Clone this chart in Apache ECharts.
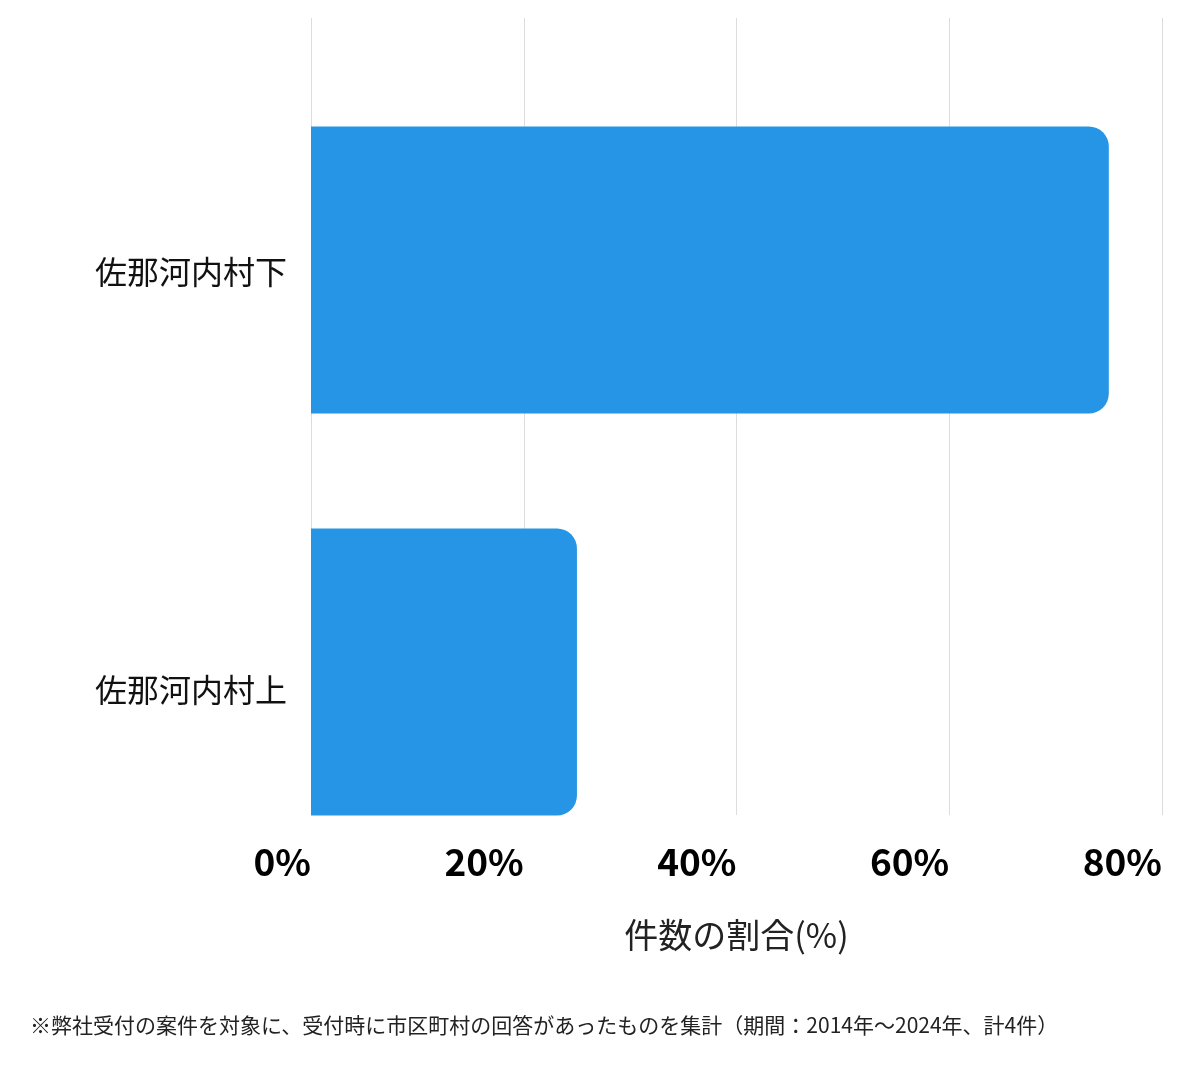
<!DOCTYPE html>
<html>
<head>
<meta charset="utf-8">
<script src="https://cdn.jsdelivr.net/npm/echarts@6/dist/echarts.min.js"></script>
<style>
  html, body { margin: 0; padding: 0; background: #fff; }
  #chart { width: 1200px; height: 1069px; }
</style>
</head>
<body>
<div id="chart"></div>
<script>
// categories, bottom to top (ECharts category y-axis starts at the bottom)
const areas = ['佐那河内村上', '佐那河内村下'];
const shares = [25, 75];
const xTicks = [0, 20, 40, 60, 80];
const axisTitle = '件数の割合(%)';
const footnote = '※弊社受付の案件を対象に、受付時に市区町村の回答があったものを集計（期間：2014年～2024年、計4件）';

const font = '"Noto Sans CJK JP", "Noto Sans", sans-serif';
const xMin = xTicks[0], xMax = xTicks[xTicks.length - 1];
const chart = echarts.init(document.getElementById('chart'));

// grid 0: gridlines + tick labels, grid 1: bars, grid 2: category labels
chart.setOption({
  animation: false,
  textStyle: { fontFamily: font },
  grid: [
    { left: 311, right: 38, top: 18, bottom: 254 },
    { left: 311, right: 38, top: 69, bottom: 196 },
    { left: 311, right: 38, top: 63, bottom: 170 }
  ],
  xAxis: [{
    gridIndex: 0,
    type: 'value',
    min: xMin,
    max: xMax,
    interval: 20,
    name: axisTitle,
    nameLocation: 'middle',
    nameGap: 103,
    nameTextStyle: { fontSize: 34, color: '#222', fontFamily: font },
    axisLine: { show: false },
    axisTick: { show: false },
    axisLabel: {
      formatter: '{value}%',
      align: 'right',
      margin: 28,
      fontSize: 37,
      fontWeight: 'bold',
      color: '#000',
      fontFamily: font
    },
    splitLine: { show: true, lineStyle: { color: '#dcdcdc', width: 1 } }
  }, {
    gridIndex: 1, type: 'value', min: xMin, max: xMax, show: false
  }, {
    gridIndex: 2, type: 'value', min: xMin, max: xMax, show: false
  }],
  yAxis: [{
    gridIndex: 0, type: 'category', data: areas, show: false
  }, {
    gridIndex: 1, type: 'category', data: areas, show: false
  }, {
    gridIndex: 2,
    type: 'category',
    data: areas,
    axisLine: { show: false },
    axisTick: { show: false },
    axisLabel: { fontSize: 32, color: '#111', margin: 24, fontFamily: font }
  }],
  series: [{
    type: 'bar',
    xAxisIndex: 1,
    yAxisIndex: 1,
    data: shares,
    barWidth: 287,
    itemStyle: { color: '#2695e5', borderRadius: [0, 20, 20, 0] }
  }],
  graphic: [{
    type: 'text',
    left: 30,
    top: 1015,
    style: { text: footnote, fontSize: 21, fill: '#222', fontFamily: font }
  }]
});
</script>
</body>
</html>
